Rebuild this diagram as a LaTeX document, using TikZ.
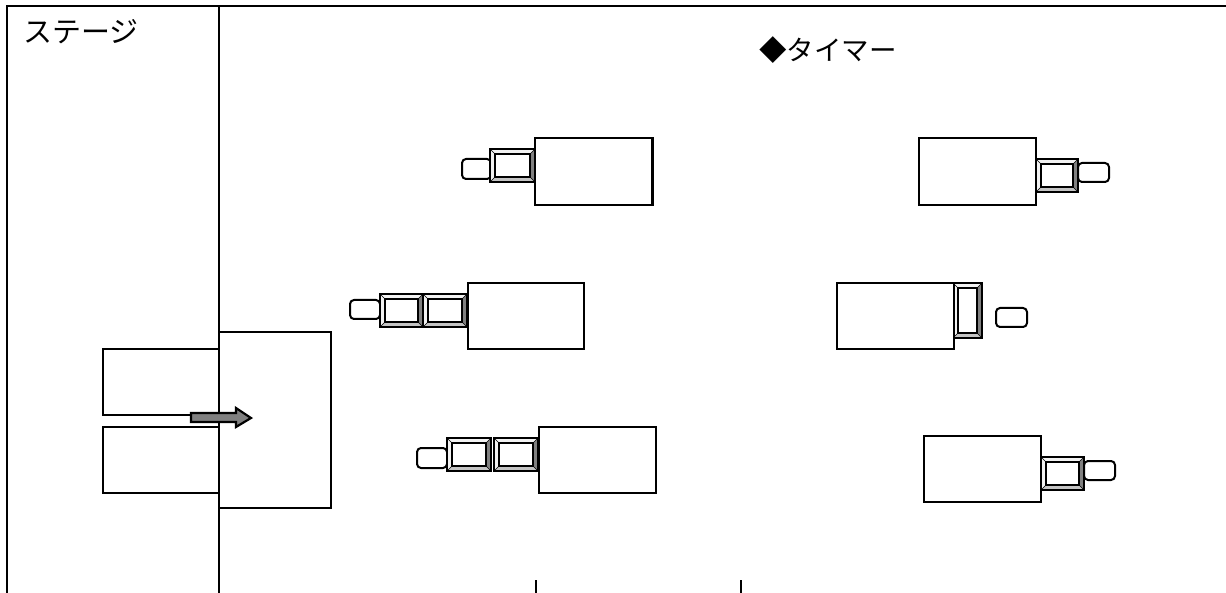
\documentclass[tikz,border=0pt]{standalone}
\usepackage{fontspec}
\newfontfamily\jpfont{Noto Sans CJK JP}
\definecolor{ink}{HTML}{000000}
\definecolor{sidetop}{HTML}{F2F2F2}
\definecolor{sidelow}{HTML}{C4C4C4}
\definecolor{sidedark}{HTML}{808080}
\definecolor{arrowfill}{HTML}{808080}
\tikzset{
  line/.style={draw=ink,line width=2pt},
  bigbox/.style={line,fill=white},
  pillbox/.style={line,fill=white,rounded corners=4pt},
  label/.style={inner sep=0pt,text=ink},
}

\begin{document}
\begin{tikzpicture}[x=1pt,y=-1pt]
  \path[use as bounding box] (0,0) rectangle (1226,593);
  % Frame and the two stubs at the lower edge.
  \draw[line,line width=2.6pt] (7,593) -- (7,6) -- (1226,6);
  \draw[line] (535.5,580) -- (535.5,593);
  \draw[line] (741,580) -- (741,593);

  % Stage block sits behind the divider.
  \foreach \xa/\ya/\xb/\yb in {103/349/219/415,103/427/219/493,219/332/331/508}{
    \draw[bigbox] (\xa,\ya) rectangle (\xb,\yb);
  }
  \draw[line] (219,6) -- (219,593);

  % Timer tips.
  \foreach \xa/\ya/\xb/\yb in {462/159/491/179,350/300/380/319,417/448/447/468,1078/163/1109/182,996/308/1027/327,1084/461/1115/480}{
    \draw[pillbox] (\xa,\ya) rectangle (\xb,\yb);
  }

  % Bevelled segments: pale on top and left, dark on the right.
  \foreach \xa/\ya/\xb/\yb in {490/149/535/182,380/294/423/327,423/294/467/327,447/438/491/471,494/438/538/471,1036/159/1078/192,953/283/982/338,1041/457/1084/490}{
    \pgfmathsetmacro{\xc}{\xa+5}
    \pgfmathsetmacro{\yc}{\ya+5}
    \pgfmathsetmacro{\xd}{\xb-5}
    \pgfmathsetmacro{\yd}{\yb-5}
    \fill[sidetop] (\xa,\ya) rectangle (\xb,\yb);
    \fill[sidelow] (\xa,\yb) -- (\xc,\yd) -- (\xd,\yd) -- (\xb,\yb) -- cycle;
    \fill[sidedark] (\xb,\ya) -- (\xd,\yc) -- (\xd,\yd) -- (\xb,\yb) -- cycle;
    \fill[white] (\xc,\yc) rectangle (\xd,\yd);
    \draw[ink,line width=.6pt] (\xa,\ya) -- (\xc,\yc) (\xb,\ya) -- (\xd,\yc) (\xa,\yb) -- (\xc,\yd) (\xb,\yb) -- (\xd,\yd);
    \draw[ink,line width=2pt] (\xc,\yc) rectangle (\xd,\yd);
    \draw[ink,line width=2.8pt] (\xa,\ya) rectangle (\xb,\yb);
  }

  % Timer bodies.
  \foreach \xa/\ya/\xb/\yb in {535/138/653/205,468/283/584/349,539/427/656/493,919/138/1036/205,837/283/954/349,924/436/1041/502}{
    \draw[bigbox] (\xa,\ya) rectangle (\xb,\yb);
  }
  \draw[ink,line width=3pt] (652.5,138) -- (652.5,205);

  % Entry arrow.
  \draw[line,fill=arrowfill,line width=2.2pt] (191,413) -- (236,413) -- (236,408) -- (251,418) -- (236,427) -- (236,422) -- (191,422) -- cycle;

  \node[label,font=\jpfont\fontsize{29}{29}\selectfont] (stage) at (81,32) {ステージ};
  \node[label,font=\jpfont\fontsize{27.5}{27.5}\selectfont] (timer) at (828,50) {◆タイマー};
\end{tikzpicture}
\end{document}
